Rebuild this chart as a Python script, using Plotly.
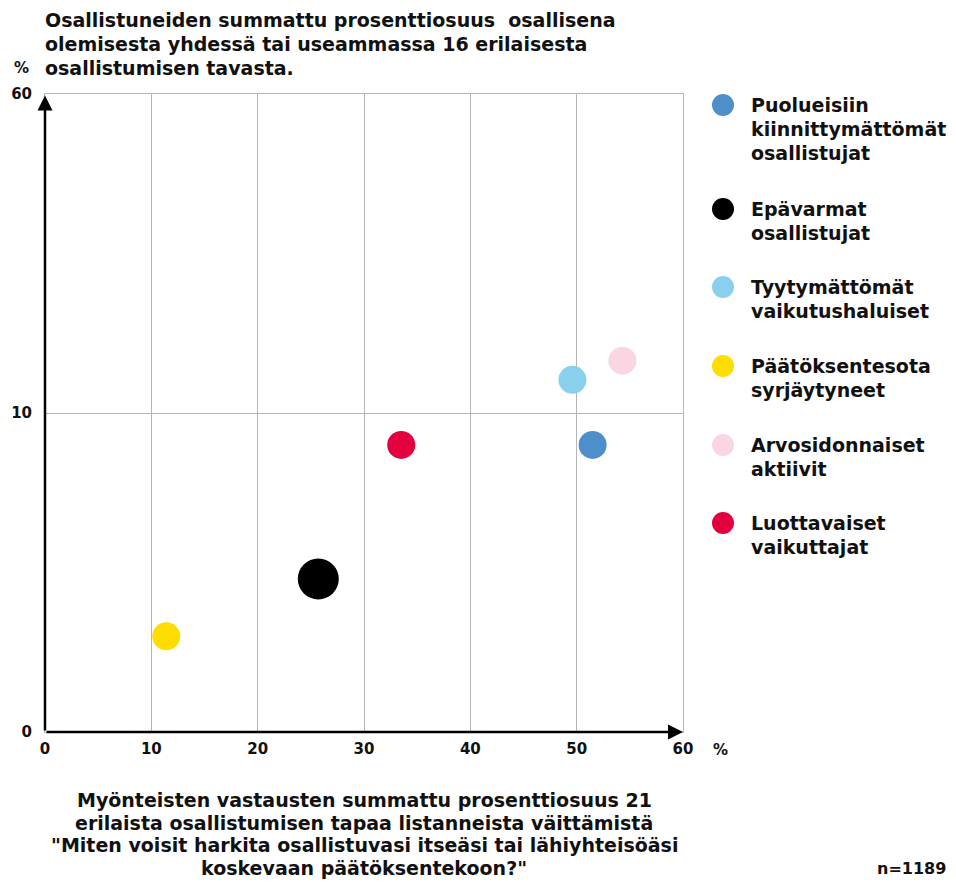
import plotly.graph_objects as go

# ---- data ----
groups = [
    ["Puolueisiin", "kiinnittymättömät", "osallistujat"],
    ["Epävarmat", "osallistujat"],
    ["Tyytymättömät", "vaikutushaluiset"],
    ["Päätöksentesota", "syrjäytyneet"],
    ["Arvosidonnaiset", "aktiivit"],
    ["Luottavaiset", "vaikuttajat"],
]
x_values = [51.5, 25.7, 49.6, 11.4, 54.3, 33.5]
y_values = [9.0, 4.8, 15.2, 3.0, 18.2, 9.0]
x_ticks = [0, 10, 20, 30, 40, 50, 60]
y_ticks = [0, 10, 60]
title_lines = [
    "Osallistuneiden summattu prosenttiosuus  osallisena",
    "olemisesta yhdessä tai useammassa 16 erilaisesta",
    "osallistumisen tavasta.",
]
xtitle_lines = [
    "Myönteisten vastausten summattu prosenttiosuus 21",
    "erilaista osallistumisen tapaa listanneista väittämistä",
    "\"Miten voisit harkita osallistuvasi itseäsi tai lähiyhteisöäsi",
    "koskevaan päätöksentekoon?\"",
]
n_text = "n=1189"

# ---- style ----
colors = ["#4E8FCB", "#000000", "#88D0EE", "#FFDD00", "#F9D6E2", "#E4003F"]
msizes = [28, 41, 28, 28, 28, 28]
FONT = "DejaVu Sans"
TXT = "#111111"
FS = 19
WT = "bold"

# page body has an 8px margin: figure is placed at (8, 8) in the window
OFF = 8
PL, PR, PT, PB = 45, 683, 94, 732          # plot area in window pixels
W, H = 956 - OFF, 882 - OFF


def px(X):
    return (X - PL) / (PR - PL)


def py(Y):
    return (PB - Y) / (PB - PT)


def ty(v):
    """Piecewise scale of the y axis: 0-10 lower half, 10-60 upper half."""
    return v if v <= 10 else 10 + (v - 10) / 5.0


fig = go.Figure()
for g, xv, yv, c, s in zip(groups, x_values, y_values, colors, msizes):
    fig.add_trace(go.Scatter(
        x=[xv], y=[ty(yv)], mode="markers", name=" ".join(g),
        marker=dict(color=c, size=s, line=dict(width=0)),
        hovertemplate="%{x}<extra></extra>", showlegend=False,
    ))

tickfont = dict(family=FONT, size=15, color=TXT, weight=WT)
fig.update_layout(
    width=W, height=H,
    margin=dict(l=PL - OFF, r=W - (PR - OFF), t=PT - OFF, b=H - (PB - OFF),
                autoexpand=False),
    paper_bgcolor="white", plot_bgcolor="white",
    font=dict(family=FONT, size=FS, color=TXT),
    showlegend=False,
    xaxis=dict(range=[0, 60], tickvals=x_ticks, ticktext=[str(t) for t in x_ticks],
               showgrid=True, gridcolor="#B5B5B5", gridwidth=1, automargin=False,
               zeroline=False, showline=True, mirror=True, linecolor="#B5B5B5",
               linewidth=1, ticks="", ticklabelstandoff=3, tickfont=tickfont),
    yaxis=dict(range=[0, 20], tickvals=[ty(t) for t in y_ticks],
               ticktext=[str(t) for t in y_ticks],
               showgrid=True, gridcolor="#B5B5B5", gridwidth=1, automargin=False,
               zeroline=False, showline=True, mirror=True, linecolor="#B5B5B5",
               linewidth=1, ticks="", ticklabelstandoff=9, tickfont=tickfont),
)

# axis arrows
fig.add_annotation(x=60, y=0, ax=0, ay=0, xref="x", yref="y", axref="x", ayref="y",
                   text="", showarrow=True, arrowhead=2, arrowsize=1.2,
                   arrowwidth=2.5, arrowcolor="black", standoff=0)
fig.add_annotation(x=0, y=19.95, ax=0, ay=0, xref="x", yref="y", axref="x", ayref="y",
                   text="", showarrow=True, arrowhead=2, arrowsize=1.2,
                   arrowwidth=2.5, arrowcolor="black", standoff=0)


def label(text, X, Y, size=FS, anchor="left"):
    fig.add_annotation(text=text, xref="paper", yref="paper", x=px(X), y=py(Y),
                       xanchor=anchor, yanchor="middle", showarrow=False,
                       font=dict(family=FONT, size=size, color=TXT, weight=WT))


# top title
for i, t in enumerate(title_lines):
    label(t, 43, 20 + 24 * i)
label("%", 21, 68, size=15, anchor="center")
label("%", 720, 750, size=15, anchor="center")

# x-axis title
for i, t in enumerate(xtitle_lines):
    label(t, (PL + PR) / 2, 800 + 22.7 * i, anchor="center")
label(n_text, 911, 868, size=16, anchor="center")

# legend (manual, to get the large symbols)
leg_tops = [105, 209, 287, 366, 445, 523]
for g, c, top in zip(groups, colors, leg_tops):
    fig.add_shape(type="circle", xref="paper", yref="paper",
                  xsizemode="pixel", ysizemode="pixel",
                  xanchor=px(723), yanchor=py(top),
                  x0=-11, x1=11, y0=-11, y1=11,
                  fillcolor=c, line=dict(width=0))
    for j, t in enumerate(g):
        label(t, 749, top + 24 * j)

fig.write_html("out.html")
